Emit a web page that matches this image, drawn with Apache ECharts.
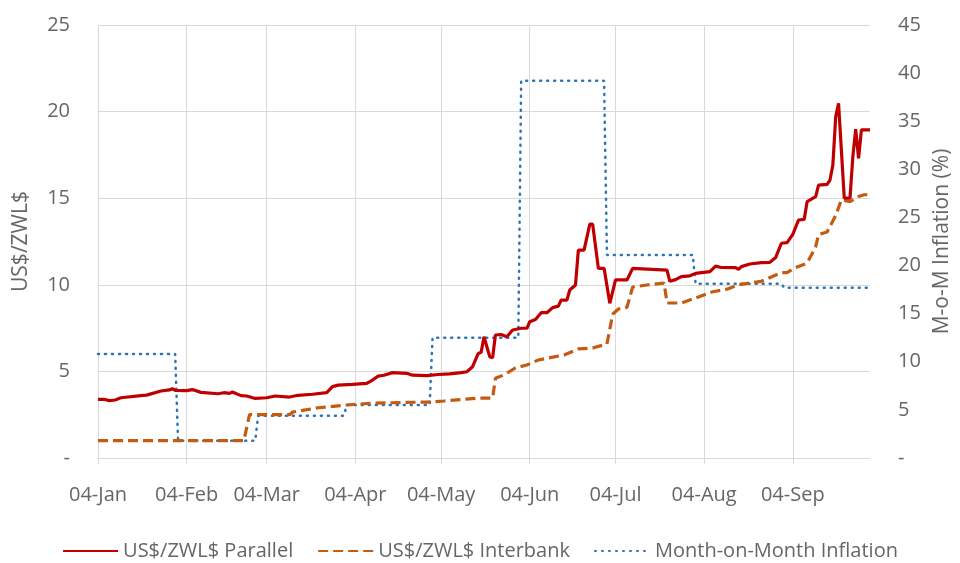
<!DOCTYPE html>
<html>
<head>
    <meta charset="utf-8">
    <script src="https://cdn.jsdelivr.net/npm/echarts@6/dist/echarts.min.js"></script>
    <style>
        html, body { margin: 0; padding: 0; background: #fff; }
        #main { width: 960px; height: 563px; }
    </style>
</head>
<body>
<div id="main"></div>
<script>
    // 平行市场汇率
    var parallelDates = ['2019-01-04', '2019-01-06', '2019-01-08', '2019-01-10', '2019-01-12', '2019-01-19', '2019-01-21',
        '2019-01-26', '2019-01-29', '2019-01-30', '2019-01-31', '2019-02-04', '2019-02-06', '2019-02-09', '2019-02-15',
        '2019-02-17', '2019-02-19', '2019-02-20', '2019-02-23', '2019-02-25', '2019-02-28', '2019-03-04', '2019-03-07',
        '2019-03-12', '2019-03-15', '2019-03-20', '2019-03-25', '2019-03-27', '2019-03-29', '2019-04-03', '2019-04-08',
        '2019-04-10', '2019-04-12', '2019-04-14', '2019-04-17', '2019-04-22', '2019-04-24', '2019-04-29', '2019-05-03',
        '2019-05-07', '2019-05-11', '2019-05-13', '2019-05-15', '2019-05-17', '2019-05-18', '2019-05-19', '2019-05-21',
        '2019-05-22', '2019-05-23', '2019-05-25', '2019-05-27', '2019-05-29', '2019-06-01', '2019-06-03', '2019-06-04',
        '2019-06-06', '2019-06-08', '2019-06-10', '2019-06-12', '2019-06-14', '2019-06-15', '2019-06-17', '2019-06-18',
        '2019-06-20', '2019-06-21', '2019-06-23', '2019-06-25', '2019-06-26', '2019-06-28', '2019-06-30', '2019-07-02',
        '2019-07-04', '2019-07-08', '2019-07-10', '2019-07-22', '2019-07-23', '2019-07-25', '2019-07-27', '2019-07-30',
        '2019-08-01', '2019-08-06', '2019-08-08', '2019-08-10', '2019-08-15', '2019-08-16', '2019-08-17', '2019-08-20',
        '2019-08-24', '2019-08-27', '2019-08-29', '2019-08-31', '2019-09-02', '2019-09-04', '2019-09-06', '2019-09-08',
        '2019-09-09', '2019-09-12', '2019-09-13', '2019-09-16', '2019-09-17', '2019-09-18', '2019-09-19', '2019-09-20',
        '2019-09-22', '2019-09-24', '2019-09-25', '2019-09-26', '2019-09-27', '2019-09-28', '2019-10-01'];
    var parallelValues = [3.39, 3.39, 3.31, 3.35, 3.48, 3.6, 3.63,
        3.87, 3.93, 4.0, 3.91, 3.89, 3.95, 3.79, 3.71,
        3.77, 3.73, 3.81, 3.6, 3.58, 3.44, 3.48, 3.58,
        3.52, 3.62, 3.68, 3.77, 4.12, 4.21, 4.25, 4.31,
        4.5, 4.73, 4.78, 4.93, 4.89, 4.78, 4.76, 4.82,
        4.86, 4.93, 4.98, 5.27, 6.04, 6.1, 7.0, 5.85,
        5.78, 7.1, 7.13, 7.0, 7.39, 7.49, 7.49, 7.87,
        8.0, 8.39, 8.39, 8.68, 8.77, 9.12, 9.12, 9.7,
        9.99, 12.0, 12.0, 13.5, 13.5, 10.95, 10.95, 8.93,
        10.28, 10.28, 10.95, 10.85, 10.2, 10.3, 10.47, 10.52,
        10.66, 10.76, 11.08, 11.0, 10.99, 10.89, 11.05, 11.2,
        11.28, 11.3, 11.57, 12.4, 12.43, 12.91, 13.74, 13.78,
        14.8, 15.09, 15.76, 15.8, 16.05, 16.9, 19.7, 20.48,
        15.0, 15.0, 17.4, 18.98, 17.3, 18.94, 18.94];

    // 银行间汇率
    var interbankDates = ['2019-01-04', '2019-02-24', '2019-02-26', '2019-03-12', '2019-03-13', '2019-03-22', '2019-04-01',
        '2019-04-10', '2019-04-29', '2019-05-05', '2019-05-17', '2019-05-22', '2019-05-23', '2019-05-26', '2019-05-30',
        '2019-06-03', '2019-06-07', '2019-06-16', '2019-06-21', '2019-06-26', '2019-07-01', '2019-07-03', '2019-07-05',
        '2019-07-08', '2019-07-10', '2019-07-15', '2019-07-21', '2019-07-22', '2019-07-27', '2019-08-01', '2019-08-07',
        '2019-08-12', '2019-08-16', '2019-08-20', '2019-08-24', '2019-08-31', '2019-09-02', '2019-09-05', '2019-09-09',
        '2019-09-12', '2019-09-13', '2019-09-16', '2019-09-19', '2019-09-21', '2019-09-24', '2019-09-27', '2019-09-29',
        '2019-10-01'];
    var interbankValues = [1.0, 1.0, 2.5, 2.5, 2.65, 2.9, 3.06,
        3.17, 3.23, 3.29, 3.46, 3.46, 4.6, 4.8, 5.2,
        5.37, 5.66, 5.95, 6.3, 6.35, 6.58, 8.3, 8.6,
        8.7, 9.87, 9.99, 10.1, 8.95, 8.95, 9.24, 9.6,
        9.75, 10.0, 10.1, 10.2, 10.7, 10.7, 11.0, 11.25,
        12.2, 12.9, 13.05, 14.0, 14.9, 14.8, 15.1, 15.2,
        15.2];

    // 月度通胀 (%)
    var inflationDates = ['2019-01-04', '2019-01-31', '2019-02-01', '2019-02-28', '2019-03-01', '2019-03-31',
        '2019-04-01', '2019-04-30', '2019-05-01', '2019-05-31', '2019-06-01', '2019-06-30', '2019-07-01',
        '2019-07-31', '2019-08-01', '2019-08-31', '2019-09-01', '2019-10-01'];
    var inflationValues = [10.8, 10.8, 1.8, 1.8, 4.4, 4.4,
        5.5, 5.5, 12.5, 12.5, 39.2, 39.2, 21.1,
        21.1, 18.1, 18.1, 17.7, 17.7];

    // x轴刻度
    var tickDates = ['2019-01-04', '2019-02-04', '2019-03-04', '2019-04-04', '2019-05-04',
        '2019-06-04', '2019-07-04', '2019-08-04', '2019-09-04'];
    var monthNames = ['Jan', 'Feb', 'Mar', 'Apr', 'May', 'Jun', 'Jul', 'Aug', 'Sep', 'Oct', 'Nov', 'Dec'];

    // 日期字符串转为毫秒 (UTC)
    function ms(s) {
        var p = s.split('-');
        return Date.UTC(+p[0], +p[1] - 1, +p[2]);
    }
    function zip(a, b) {
        return a.map(function (d, i) { return [ms(d), b[i]]; });
    }

    var gridColor = '#d9d9d9';
    var textColor = '#666666';
    var font = 'Open Sans';

    var myChart = echarts.init(document.getElementById('main'));
    var option = {
        animation: false,
        textStyle: { fontFamily: font },
        grid: { left: 98, right: 90, top: 25, bottom: 105, outerBoundsMode: 'none' },
        legend: {
            bottom: -3,
            itemWidth: 55,
            itemHeight: 10,
            itemGap: 24,
            itemStyle: { opacity: 0 },
            textStyle: { fontSize: 20, color: textColor, fontFamily: font },
            data: ['US$/ZWL$ Parallel', 'US$/ZWL$ Interbank', 'Month-on-Month Inflation']
        },
        xAxis: {
            type: 'value',
            min: ms('2019-01-04'),
            max: ms('2019-10-01'),
            axisLine: { lineStyle: { color: gridColor, width: 1 } },
            axisTick: { show: true, length: 6, lineStyle: { color: gridColor }, customValues: tickDates.map(ms) },
            axisLabel: {
                customValues: tickDates.map(ms),
                color: textColor,
                fontSize: 20,
                margin: 27,
                fontFamily: font,
                formatter: function (value) {
                    var d = new Date(value);
                    var day = d.getUTCDate();
                    return (day < 10 ? '0' + day : day) + '-' + monthNames[d.getUTCMonth()];
                }
            },
            splitLine: { show: true, lineStyle: { color: gridColor, width: 1 } }
        },
        yAxis: [{
            type: 'value',
            min: 0,
            max: 25,
            interval: 5,
            name: 'US$/ZWL$',
            nameLocation: 'middle',
            nameGap: 66,
            nameTextStyle: { fontSize: 21, color: textColor, fontFamily: font },
            axisLine: { show: false },
            axisTick: { show: false },
            axisLabel: {
                color: textColor, fontSize: 20, margin: 28, fontFamily: font,
                formatter: function (v) { return v === 0 ? '-' : v; }
            },
            splitLine: { lineStyle: { color: gridColor, width: 1 } }
        }, {
            type: 'value',
            min: 0,
            max: 45,
            interval: 5,
            name: 'M-o-M Inflation (%)',
            nameLocation: 'middle',
            nameGap: 60,
            nameRotate: 90,
            nameTextStyle: { fontSize: 21, color: textColor, fontFamily: font },
            axisLine: { show: false },
            axisTick: { show: false },
            axisLabel: {
                color: textColor, fontSize: 20, margin: 28, fontFamily: font,
                formatter: function (v) { return v === 0 ? '-' : v; }
            },
            splitLine: { show: false }
        }],
        series: [{
            name: 'US$/ZWL$ Parallel',
            type: 'line',
            yAxisIndex: 0,
            symbol: 'none',
            data: zip(parallelDates, parallelValues),
            lineStyle: { color: '#c00000', width: 3.2 },
            itemStyle: { color: '#c00000' },
            z: 4
        }, {
            name: 'US$/ZWL$ Interbank',
            type: 'line',
            yAxisIndex: 0,
            symbol: 'none',
            data: zip(interbankDates, interbankValues),
            lineStyle: { color: '#c55a11', width: 3.2, type: [10, 5] },
            itemStyle: { color: '#c55a11' },
            z: 3
        }, {
            name: 'Month-on-Month Inflation',
            type: 'line',
            yAxisIndex: 1,
            symbol: 'none',
            data: zip(inflationDates, inflationValues),
            lineStyle: { color: '#2e75b6', width: 2.5, type: [1, 6], cap: 'round' },
            itemStyle: { color: '#2e75b6' },
            z: 2
        }]
    };
    myChart.setOption(option);
</script>
</body>
</html>
